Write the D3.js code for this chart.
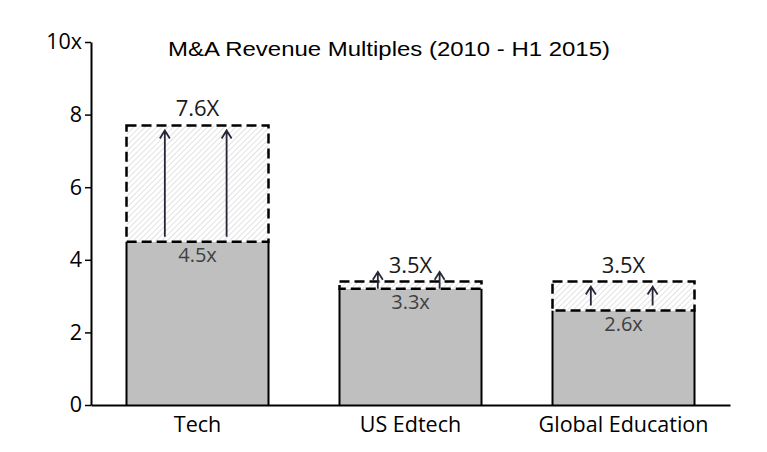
<!DOCTYPE html>
<html>
<head>
<meta charset="utf-8">
<script src="https://cdn.jsdelivr.net/npm/d3@7"></script>
<style>
  body { margin: 0; background: #fff; }
  svg text { font-family: "Open Sans", sans-serif; }
</style>
</head>
<body>
<div id="chart"></div>
<script>
// chart data
const categories = ["Tech", "US Edtech", "Global Education"];
const baseValues = [4.5, 3.2, 2.6];
const topValues = [7.7, 3.4, 3.4];
const baseLabels = ["4.5x", "3.3x", "2.6x"];
const topLabels = ["7.6X", "3.5X", "3.5X"];
const yTicks = [0, 2, 4, 6, 8, 10];

const width = 767, height = 452;

const svg = d3.select("#chart").append("svg")
    .attr("width", width)
    .attr("height", height);

const x = d3.scaleBand()
    .domain(categories)
    .range([91, 730])
    .paddingInner(1 / 3)
    .paddingOuter(1 / 6);

const y = d3.scaleLinear()
    .domain([0, 10])
    .range([405, 42]);

// hatch pattern
const defs = svg.append("defs");
const pat = defs.append("pattern")
    .attr("id", "hatch")
    .attr("patternUnits", "userSpaceOnUse")
    .attr("width", 4)
    .attr("height", 4)
    .attr("patternTransform", "rotate(45)");
pat.append("rect").attr("width", 4).attr("height", 4).attr("fill", "#fff");
pat.append("line")
    .attr("x1", 0).attr("y1", 0).attr("x2", 0).attr("y2", 4)
    .attr("stroke", "#cfcfcf")
    .attr("stroke-width", 1.2);

const rows = categories.map((c, i) => ({
    cat: c, base: baseValues[i], top: topValues[i],
    baseLabel: baseLabels[i], topLabel: topLabels[i]
}));

const g = svg.append("g");

// grey base bars
g.selectAll("rect.base")
    .data(rows)
    .enter()
    .append("rect")
    .attr("class", "base")
    .attr("x", d => x(d.cat))
    .attr("y", d => y(d.base))
    .attr("width", x.bandwidth())
    .attr("height", d => y(0) - y(d.base))
    .attr("fill", "#bfbfbf");

// solid sides of base bars
g.selectAll("path.side")
    .data(rows)
    .enter()
    .append("path")
    .attr("class", "side")
    .attr("d", d => `M${x(d.cat)},${y(0)}V${y(d.base)}M${x(d.cat) + x.bandwidth()},${y(0)}V${y(d.base)}`)
    .attr("fill", "none")
    .attr("stroke", "#000")
    .attr("stroke-width", 2);

// hatched potential box
g.selectAll("rect.up")
    .data(rows)
    .enter()
    .append("rect")
    .attr("class", "up")
    .attr("x", d => x(d.cat))
    .attr("y", d => y(d.top))
    .attr("width", x.bandwidth())
    .attr("height", d => y(d.base) - y(d.top))
    .attr("fill", "url(#hatch)")
    .attr("stroke", "#000")
    .attr("stroke-width", 2.5)
    .attr("stroke-dasharray", "10,5");

// arrows (shaft + open head)
const arrowPos = [0.27, 0.705];
rows.forEach(d => {
    const tip = Math.min(y(d.top) + 5, y(d.base) - 17);
    const bottom = Math.max(tip + 17, y(d.base) - 5);
    arrowPos.forEach(p => {
        const ax = x(d.cat) + x.bandwidth() * p;
        g.append("path")
            .attr("d", `M${ax},${bottom}V${tip}M${ax - 5},${tip + 8}L${ax},${tip}L${ax + 5},${tip + 8}`)
            .attr("fill", "none")
            .attr("stroke", "#262637")
            .attr("stroke-width", 1.8)
            .attr("stroke-linejoin", "miter");
    });
});

// value labels
g.selectAll("text.top")
    .data(rows)
    .enter()
    .append("text")
    .attr("class", "top")
    .attr("x", d => x(d.cat) + x.bandwidth() / 2)
    .attr("y", d => y(d.top) - 9)
    .attr("text-anchor", "middle")
    .attr("font-size", 22)
    .attr("fill", "#1a1a1a")
    .text(d => d.topLabel);

g.selectAll("text.baselab")
    .data(rows)
    .enter()
    .append("text")
    .attr("class", "baselab")
    .attr("x", d => x(d.cat) + x.bandwidth() / 2)
    .attr("y", d => y(d.base) + 20)
    .attr("text-anchor", "middle")
    .attr("font-size", 20)
    .attr("fill", "#404040")
    .text(d => d.baseLabel);

// y axis
const yAxis = svg.append("g")
    .attr("transform", "translate(91,0)")
    .call(d3.axisLeft(y).tickValues(yTicks).tickSize(6).tickSizeOuter(0)
        .tickFormat(d => d === 10 ? "10x" : d));
yAxis.select(".domain").attr("stroke", "#000").attr("stroke-width", 2);
yAxis.selectAll(".tick line").attr("stroke", "#000").attr("stroke-width", 1.5);
yAxis.selectAll(".tick text")
    .attr("font-size", 21.5)
    .attr("font-family", "Open Sans, sans-serif")
    .attr("fill", "#000")
    .attr("x", -9);

// x axis
const xAxis = svg.append("g")
    .attr("transform", `translate(0,${y(0)})`)
    .call(d3.axisBottom(x).tickSize(0).tickSizeOuter(0).tickPadding(12));
xAxis.select(".domain").attr("stroke", "#000").attr("stroke-width", 2);
xAxis.selectAll(".tick text")
    .attr("font-size", 21.5)
    .attr("font-family", "Open Sans, sans-serif")
    .attr("fill", "#000");

// title
svg.append("text")
    .attr("x", 389)
    .attr("y", 56)
    .attr("text-anchor", "middle")
    .attr("font-size", 20)
    .attr("textLength", 442)
    .attr("lengthAdjust", "spacingAndGlyphs")
    .style("font-family", "'Liberation Sans', Arial, sans-serif")
    .attr("fill", "#000")
    .text("M&A Revenue Multiples (2010 - H1 2015)");
</script>
</body>
</html>
